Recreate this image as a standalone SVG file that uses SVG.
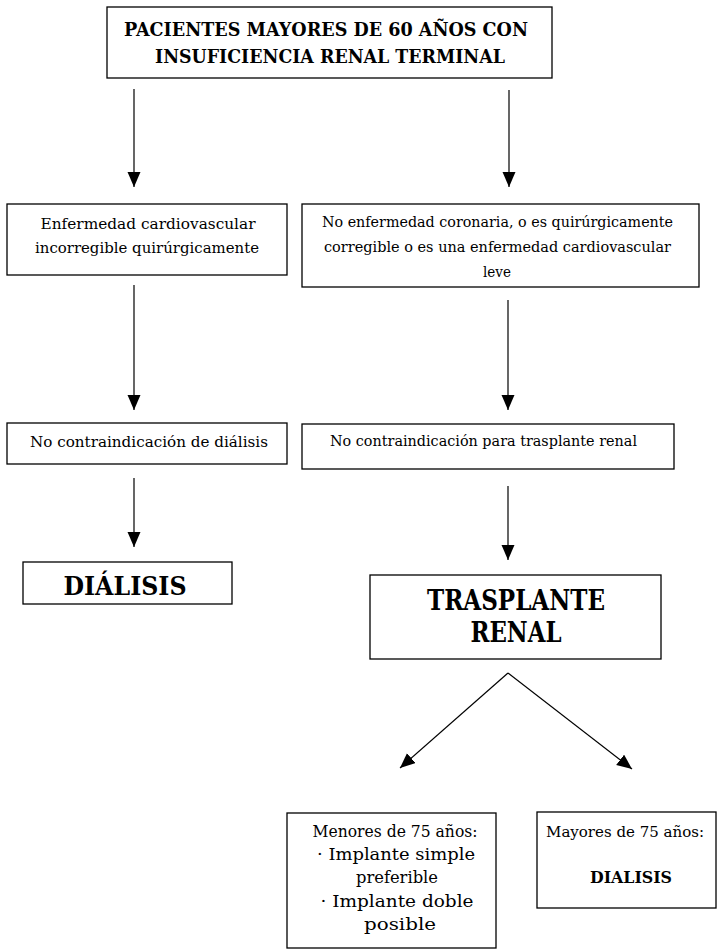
<svg xmlns="http://www.w3.org/2000/svg" width="718" height="949" viewBox="0 0 718 949" font-family="DejaVu Serif, Liberation Serif, serif">
<style>
  .box { fill: #fff; stroke: #000; stroke-width: 1.3; }
  text { fill: #000; text-anchor: middle; }
  .r16 { font-size: 15.5px; }
  .r19 { font-size: 17.5px; }
  .b { font-weight: bold; }
  .conn line { stroke: #000; stroke-width: 1.2; marker-end: url(#ah); }
</style>
<defs>
  <marker id="ah" markerUnits="userSpaceOnUse" markerWidth="16" markerHeight="14" refX="15" refY="6.5" orient="auto">
    <path d="M0,0 L15,6.5 L0,13 z" fill="#000"/>
  </marker>
</defs>
<rect width="718" height="949" fill="#fff"/>

<g id="n-top">
  <rect class="box" x="107" y="7" width="445" height="71"/>
  <text class="b" x="326" y="36" font-size="19" textLength="404" lengthAdjust="spacingAndGlyphs">PACIENTES MAYORES DE 60 AÑOS CON</text>
  <text class="b" x="330" y="63" font-size="19" textLength="350" lengthAdjust="spacingAndGlyphs">INSUFICIENCIA RENAL TERMINAL</text>
</g>

<g id="n-cardio">
  <rect class="box" x="7" y="204" width="280" height="71"/>
  <text class="r16" x="148" y="229" textLength="215" lengthAdjust="spacingAndGlyphs">Enfermedad cardiovascular</text>
  <text class="r16" x="147" y="253" textLength="224" lengthAdjust="spacingAndGlyphs">incorregible quirúrgicamente</text>
</g>

<g id="n-nocoronaria">
  <rect class="box" x="302" y="204" width="397" height="83"/>
  <text class="r16" x="497.5" y="227" textLength="351" lengthAdjust="spacingAndGlyphs">No enfermedad coronaria, o es quirúrgicamente</text>
  <text class="r16" x="497.5" y="252" textLength="347" lengthAdjust="spacingAndGlyphs">corregible o es una enfermedad cardiovascular</text>
  <text class="r16" x="497" y="277" textLength="28" lengthAdjust="spacingAndGlyphs">leve</text>
</g>

<g id="n-nocontra-dial">
  <rect class="box" x="7" y="423" width="280" height="41"/>
  <text class="r16" x="149" y="447" textLength="238" lengthAdjust="spacingAndGlyphs">No contraindicación de diálisis</text>
</g>

<g id="n-nocontra-tras">
  <rect class="box" x="302" y="424" width="372" height="45"/>
  <text class="r16" x="483.5" y="446" textLength="307" lengthAdjust="spacingAndGlyphs">No contraindicación para trasplante renal</text>
</g>

<g id="n-dialisis">
  <rect class="box" x="23" y="562" width="209" height="42"/>
  <text class="b" x="125" y="595" font-size="26" textLength="123" lengthAdjust="spacingAndGlyphs">DIÁLISIS</text>
</g>

<g id="n-trasplante">
  <rect class="box" x="370" y="575" width="291" height="84"/>
  <text class="b" x="516" y="610" font-size="27" textLength="178" lengthAdjust="spacingAndGlyphs">TRASPLANTE</text>
  <text class="b" x="516" y="642" font-size="27" textLength="91" lengthAdjust="spacingAndGlyphs">RENAL</text>
</g>

<g id="n-menores">
  <rect class="box" x="287" y="813" width="209" height="135"/>
  <text class="r19" x="395" y="837" textLength="165" lengthAdjust="spacingAndGlyphs">Menores de 75 años:</text>
  <text class="r19" x="396" y="860" textLength="158" lengthAdjust="spacingAndGlyphs">· Implante simple</text>
  <text class="r19" x="397" y="883" textLength="82" lengthAdjust="spacingAndGlyphs">preferible</text>
  <text class="r19" x="397" y="907" textLength="153" lengthAdjust="spacingAndGlyphs">· Implante doble</text>
  <text class="r19" x="400" y="930" textLength="72" lengthAdjust="spacingAndGlyphs">posible</text>
</g>

<g id="n-mayores">
  <rect class="box" x="537" y="812" width="179" height="96"/>
  <text x="625" y="837" font-size="15.5" textLength="158" lengthAdjust="spacingAndGlyphs">Mayores de 75 años:</text>
  <text class="b" x="631" y="883" font-size="17.5" textLength="82" lengthAdjust="spacingAndGlyphs">DIALISIS</text>
</g>

<g id="connectors" class="conn">
  <line x1="134" y1="89" x2="134" y2="187"/>
  <line x1="509" y1="90" x2="509" y2="187"/>
  <line x1="134" y1="285" x2="134" y2="410"/>
  <line x1="508" y1="300" x2="508" y2="410"/>
  <line x1="134" y1="478" x2="134" y2="547"/>
  <line x1="508" y1="486" x2="508" y2="560"/>
  <line x1="508" y1="673" x2="400" y2="768"/>
  <line x1="508" y1="673" x2="632" y2="769"/>
</g>
</svg>
